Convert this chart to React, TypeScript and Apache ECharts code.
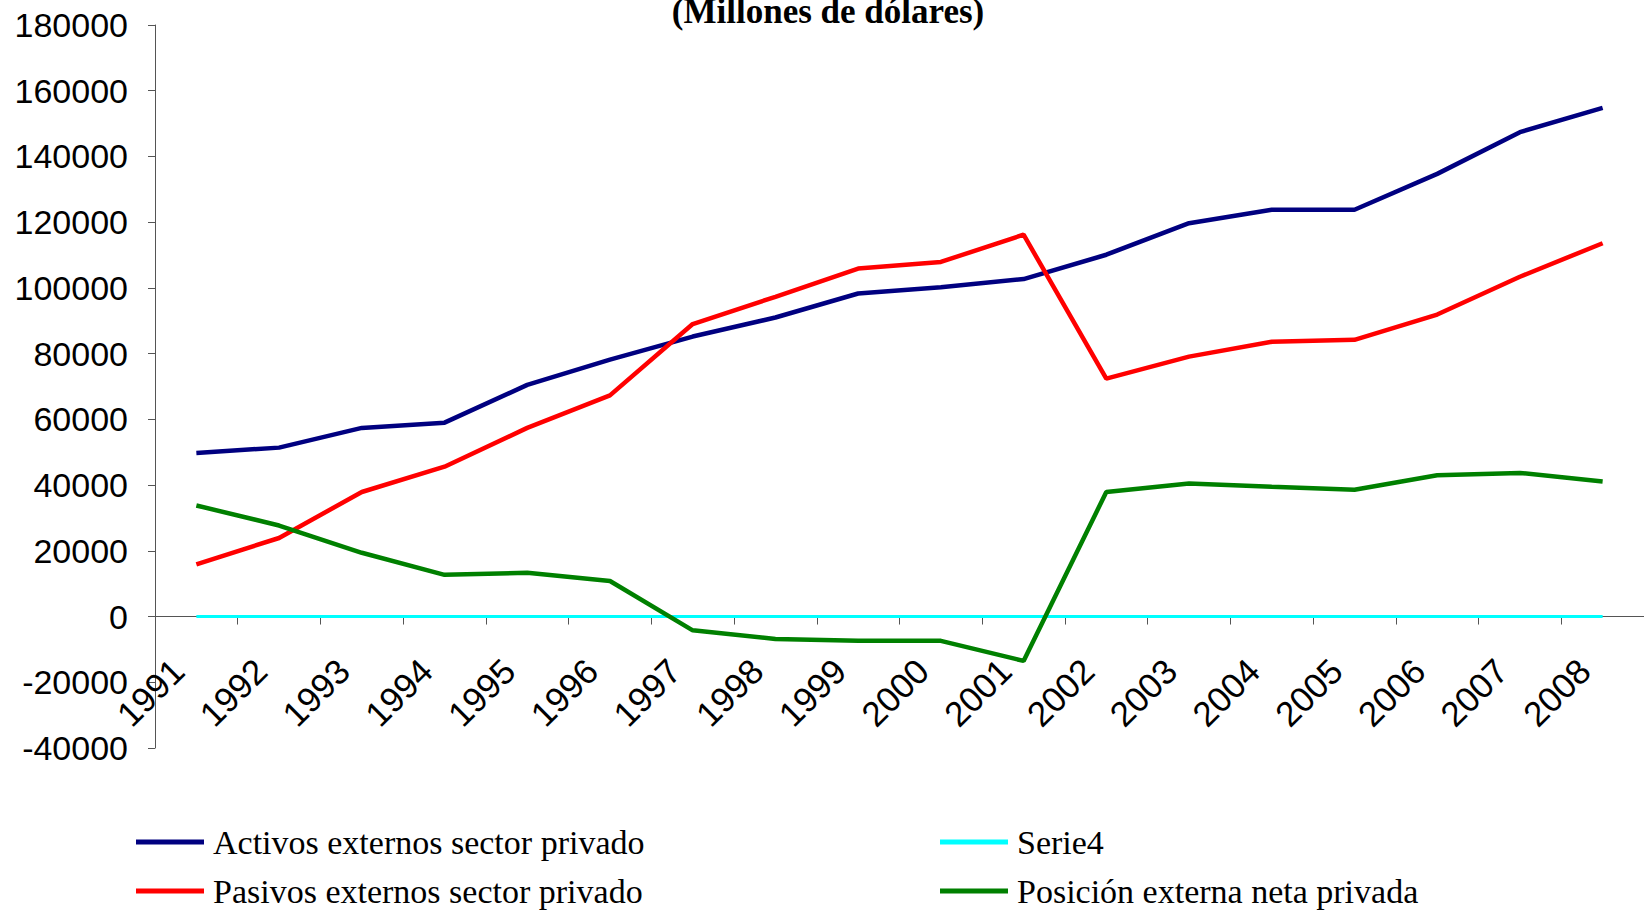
import React, { useEffect, useRef } from "react";
import * as echarts from "echarts";

const years = ["1991","1992","1993","1994","1995","1996","1997","1998","1999","2000","2001","2002","2003","2004","2005","2006","2007","2008"];
const activos = [49800, 51400, 57400, 59000, 70500, 78200, 85200, 91000, 98300, 100200, 102700, 110100, 119700, 123800, 123800, 134700, 147400, 154800];
const pasivos = [15900, 23900, 37900, 45600, 57400, 67300, 89000, 97300, 105900, 107900, 116200, 72400, 79100, 83600, 84200, 91900, 103400, 113600];
const serie4 = [0, 0, 0, 0, 0, 0, 0, 0, 0, 0, 0, 0, 0, 0, 0, 0, 0, 0];
const neta = [33800, 27700, 19400, 12700, 13300, 10800, -4200, -6800, -7400, -7400, -13500, 37900, 40500, 39500, 38600, 43000, 43700, 41100];
const yTicks = { min: -40000, max: 180000, interval: 20000 };

const names = {
  activos: "Activos externos sector privado",
  pasivos: "Pasivos externos sector privado",
  serie4: "Serie4",
  neta: "Posición externa neta privada",
};

const GRID_TOP = 25;
const GRID_BOTTOM = 162;
const CHART_H = 910;

export default function App() {
  const ref = useRef<HTMLDivElement>(null);
  useEffect(() => {
    document.body.style.margin = "0";
    const chart = echarts.init(ref.current!, null, { renderer: "svg" });
    const plotH = CHART_H - GRID_TOP - GRID_BOTTOM;
    const zeroFromBottom = (plotH * (0 - yTicks.min)) / (yTicks.max - yTicks.min);
    const legendCommon = {
      icon: "rect",
      itemWidth: 68,
      itemHeight: 5,
      itemGap: 8,
      padding: 0,
      selectedMode: false,
      textStyle: { fontFamily: "Liberation Serif", fontSize: 34, color: "#000", padding: [0, 0, 0, 4] },
    };
    const axisColor = "#555";
    const mk = (name: string, data: number[], color: string, width: number) => ({
      name,
      type: "line",
      data,
      showSymbol: false,
      symbol: "none",
      color,
      itemStyle: { color },
      lineStyle: { color, width },
    });
    chart.setOption({
      animation: false,
      backgroundColor: "#fff",
      grid: { left: 155, right: 0, top: GRID_TOP, bottom: GRID_BOTTOM },
      graphic: [
        {
          type: "text",
          x: 828,
          y: 11,
          style: {
            text: "(Millones de dólares)",
            fontSize: 35,
            fontWeight: "bold",
            fontFamily: "Liberation Serif",
            fill: "#000",
            align: "center",
            verticalAlign: "middle",
          },
        },
      ],
      legend: [
        { ...legendCommon, data: [names.activos], left: 136, top: 825 },
        { ...legendCommon, data: [names.pasivos], left: 136, top: 874 },
        { ...legendCommon, data: [names.serie4], left: 940, top: 825 },
        { ...legendCommon, data: [names.neta], left: 940, top: 874 },
      ],
      xAxis: {
        type: "category",
        data: years,
        boundaryGap: true,
        offset: -zeroFromBottom,
        axisLine: { onZero: false, lineStyle: { color: axisColor, width: 1 } },
        axisTick: { show: true, length: 8, interval: 0, lineStyle: { color: axisColor } },
        axisLabel: {
          interval: 0,
          rotate: 45,
          margin: 30,
          padding: [0, 26, 0, 0],
          fontFamily: "Liberation Sans",
          fontSize: 35,
          color: "#000",
        },
        splitLine: { show: false },
      },
      yAxis: {
        type: "value",
        min: yTicks.min,
        max: yTicks.max,
        interval: yTicks.interval,
        axisLine: { show: true, lineStyle: { color: axisColor, width: 1 } },
        axisTick: { show: true, length: 7, inside: false, lineStyle: { color: axisColor } },
        axisLabel: {
          fontFamily: "Liberation Sans",
          fontSize: 34,
          color: "#000",
          margin: 27,
          formatter: (v: number) => String(v),
        },
        splitLine: { show: false },
      },
      series: [
        mk(names.activos, activos, "#000080", 4.5),
        mk(names.pasivos, pasivos, "#FF0000", 4.5),
        mk(names.serie4, serie4, "#00FFFF", 3),
        mk(names.neta, neta, "#008000", 4.5),
      ],
    });
    return () => chart.dispose();
  }, []);
  return (
    <div
      ref={ref}
      style={{ position: "fixed", left: 0, top: 0, width: 1644, height: 910 }}
    />
  );
}
